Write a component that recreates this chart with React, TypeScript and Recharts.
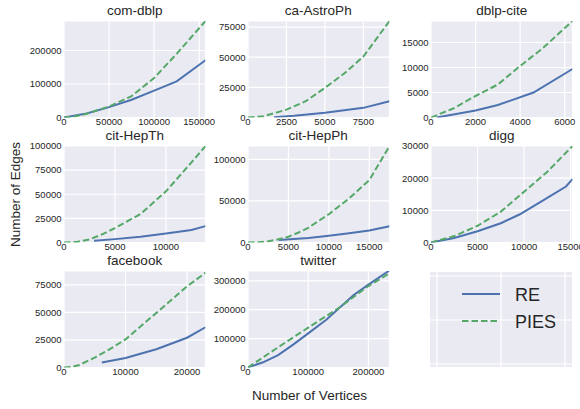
import React from "react";
import { LineChart, Line, XAxis, YAxis, CartesianGrid } from "recharts";

type Pt = { x: number; y: number };

// ---- data ----
const comDblpRE: Pt[] = [{x:0,y:0},{x:25000,y:12000},{x:50000,y:31000},{x:75000,y:53000},{x:100000,y:80000},{x:125000,y:108000},{x:157000,y:171000}];
const comDblpPIES: Pt[] = [{x:0,y:0},{x:12500,y:3500},{x:25000,y:11000},{x:50000,y:33000},{x:75000,y:64000},{x:100000,y:118000},{x:125000,y:190000},{x:157000,y:288000}];

const astroRE: Pt[] = [{x:1700,y:300},{x:3000,y:1500},{x:5000,y:4000},{x:7500,y:8000},{x:9200,y:13500}];
const astroPIES: Pt[] = [{x:0,y:0},{x:1000,y:1000},{x:2500,y:6500},{x:3750,y:13500},{x:5000,y:24500},{x:6250,y:36500},{x:7500,y:50500},{x:9200,y:80000}];

const dblpCiteRE: Pt[] = [{x:250,y:0},{x:1000,y:600},{x:2000,y:1400},{x:3000,y:2500},{x:4600,y:5000},{x:6350,y:9700}];
const dblpCitePIES: Pt[] = [{x:0,y:0},{x:1000,y:1800},{x:2000,y:4300},{x:3000,y:6600},{x:4000,y:10300},{x:5000,y:13800},{x:6350,y:19300}];

const hepThRE: Pt[] = [{x:2950,y:1800},{x:5000,y:3500},{x:7500,y:6000},{x:10000,y:9300},{x:12500,y:13000},{x:13880,y:17000}];
const hepThPIES: Pt[] = [{x:0,y:0},{x:1250,y:600},{x:2500,y:3200},{x:3750,y:8500},{x:5000,y:15000},{x:7500,y:29500},{x:10000,y:53000},{x:12500,y:83000},{x:13880,y:100000}];

const hepPhRE: Pt[] = [{x:3800,y:3000},{x:7500,y:5500},{x:10000,y:8000},{x:12500,y:11000},{x:15000,y:14500},{x:17500,y:19500}];
const hepPhPIES: Pt[] = [{x:0,y:0},{x:1250,y:300},{x:2500,y:1500},{x:3750,y:3800},{x:5000,y:7000},{x:6250,y:12000},{x:7500,y:18000},{x:10000,y:34000},{x:12500,y:53000},{x:15000,y:75000},{x:17500,y:116000}];

const diggRE: Pt[] = [{x:0,y:0},{x:2500,y:1400},{x:5000,y:3500},{x:7500,y:6000},{x:9500,y:8700},{x:12000,y:13000},{x:14500,y:17400},{x:15200,y:19700}];
const diggPIES: Pt[] = [{x:0,y:0},{x:2500,y:2000},{x:5000,y:5200},{x:7500,y:9600},{x:10000,y:15800},{x:12500,y:22000},{x:15200,y:30000}];

const facebookRE: Pt[] = [{x:6150,y:4500},{x:10000,y:8700},{x:15000,y:16500},{x:20000,y:27000},{x:23000,y:36500}];
const facebookPIES: Pt[] = [{x:0,y:0},{x:1250,y:500},{x:2500,y:2300},{x:5000,y:9000},{x:7500,y:16800},{x:10000,y:25500},{x:15000,y:49500},{x:20000,y:73500},{x:23000,y:86000}];

const twitterRE: Pt[] = [{x:0,y:0},{x:25000,y:18000},{x:50000,y:43000},{x:75000,y:79000},{x:100000,y:118000},{x:130000,y:165000},{x:175000,y:250000},{x:200000,y:287000},{x:235000,y:336000}];
const twitterPIES: Pt[] = [{x:0,y:0},{x:50000,y:70000},{x:100000,y:138000},{x:150000,y:205000},{x:200000,y:282000},{x:235000,y:326000}];

const titles = ["com-dblp", "ca-AstroPh", "dblp-cite", "cit-HepTh", "cit-HepPh", "digg", "facebook", "twitter"];
const xMaxes = [157000, 9200, 6350, 13880, 17500, 15200, 23000, 235000];
const yMaxes = [288000, 80000, 19300, 100000, 116000, 30000, 87500, 334000];
const xTicks = [
  [0, 50000, 100000, 150000],
  [0, 2500, 5000, 7500],
  [0, 2000, 4000, 6000],
  [0, 5000, 10000],
  [0, 5000, 10000, 15000],
  [0, 5000, 10000, 15000],
  [0, 10000, 20000],
  [0, 100000, 200000],
];
const yTicks = [
  [0, 100000, 200000],
  [0, 25000, 50000, 75000],
  [0, 5000, 10000, 15000],
  [0, 25000, 50000, 75000, 100000],
  [0, 50000, 100000],
  [0, 10000, 20000, 30000],
  [0, 25000, 50000, 75000],
  [0, 100000, 200000, 300000],
];
const reSeries = [comDblpRE, astroRE, dblpCiteRE, hepThRE, hepPhRE, diggRE, facebookRE, twitterRE];
const piesSeries = [comDblpPIES, astroPIES, dblpCitePIES, hepThPIES, hepPhPIES, diggPIES, facebookPIES, twitterPIES];
const seriesNames = ["RE", "PIES"];

// ---- layout / style ----
const FONT = "'Liberation Sans', Arial, sans-serif";
const TEXT = "#262626";
const BG = "#EAEAF2";
const BLUE = "#4C72B0";
const GREEN = "#55A868";
const DASH = "6.5 3";

const colLeft = [64, 247.5, 431];
const rowTop = [21, 146, 271];
const PW = 141.5;
const PH = 96.5;
const YW = 50;
const XH = 16;
const MT = 8;
const MR = 16;

function Panel({ i }: { i: number }) {
  const col = i % 3;
  const row = Math.floor(i / 3);
  const left = colLeft[col] - YW;
  const top = rowTop[row] - MT;
  const tick = { fontSize: 9.5, fill: TEXT, fontFamily: FONT };
  return (
    <div style={{ position: "absolute", left, top }}>
      <LineChart width={YW + PW + MR} height={PH + XH + MT} margin={{ top: MT, right: MR, bottom: 0, left: 0 }}>
        <CartesianGrid fill={BG} stroke="#ffffff" strokeWidth={1.2} />
        <XAxis
          type="number"
          dataKey="x"
          domain={[0, xMaxes[i]]}
          allowDataOverflow
          ticks={xTicks[i]}
          interval={0}
          axisLine={false}
          tickLine={false}
          tickSize={0}
          tickMargin={1}
          height={XH}
          tick={tick}
        />
        <YAxis
          type="number"
          dataKey="y"
          domain={[0, yMaxes[i]]}
          allowDataOverflow
          ticks={yTicks[i]}
          interval={0}
          axisLine={false}
          tickLine={false}
          tickSize={0}
          tickMargin={2.5}
          width={YW}
          tick={tick}
        />
        <Line
          data={reSeries[i]}
          dataKey="y"
          name={seriesNames[0]}
          type="linear"
          stroke={BLUE}
          strokeWidth={2}
          dot={false}
          activeDot={false}
          isAnimationActive={false}
        />
        <Line
          data={piesSeries[i]}
          dataKey="y"
          name={seriesNames[1]}
          type="linear"
          stroke={GREEN}
          strokeWidth={2}
          strokeDasharray={DASH}
          dot={false}
          activeDot={false}
          isAnimationActive={false}
        />
      </LineChart>
    </div>
  );
}

export default function App() {
  return (
    <div style={{ position: "absolute", left: 0, top: 0, width: 580, height: 409, background: "#fff", overflow: "hidden" }}>
      {titles.map((_, i) => (
        <Panel key={i} i={i} />
      ))}
      <svg width={580} height={409} style={{ position: "absolute", left: 0, top: 0, pointerEvents: "none" }}>
        {titles.map((t, i) => {
          const col = i % 3;
          const row = Math.floor(i / 3);
          return (
            <text
              key={t}
              x={colLeft[col] + PW / 2}
              y={rowTop[row] - 6.5}
              textAnchor="middle"
              fontSize={13.5}
              fill={TEXT}
              fontFamily={FONT}
            >
              {t}
            </text>
          );
        })}
        <text
          x={19.5}
          y={194.5}
          transform="rotate(-90, 19.5, 194.5)"
          textAnchor="middle"
          fontSize={13.5}
          fill={TEXT}
          fontFamily={FONT}
        >
          Number of Edges
        </text>
        <text x={309.5} y={399.5} textAnchor="middle" fontSize={13.5} fill={TEXT} fontFamily={FONT}>
          Number of Vertices
        </text>
        {/* legend panel */}
        <rect x={430} y={272} width={142} height={95} fill={BG} />
        {[437, 501, 565].map((x) => (
          <line key={"v" + x} x1={x} x2={x} y1={272} y2={367} stroke="#fff" strokeWidth={1.2} />
        ))}
        {[276, 320, 364].map((y) => (
          <line key={"h" + y} x1={430} x2={572} y1={y} y2={y} stroke="#fff" strokeWidth={1.2} />
        ))}
        <line x1={462} x2={500} y1={294} y2={294} stroke={BLUE} strokeWidth={2} />
        <line x1={462} x2={500} y1={321} y2={321} stroke={GREEN} strokeWidth={2} strokeDasharray={DASH} />
        <text x={515} y={301} fontSize={18} fill={TEXT} fontFamily={FONT}>
          {seriesNames[0]}
        </text>
        <text x={515} y={327.5} fontSize={18} fill={TEXT} fontFamily={FONT}>
          {seriesNames[1]}
        </text>
      </svg>
    </div>
  );
}
